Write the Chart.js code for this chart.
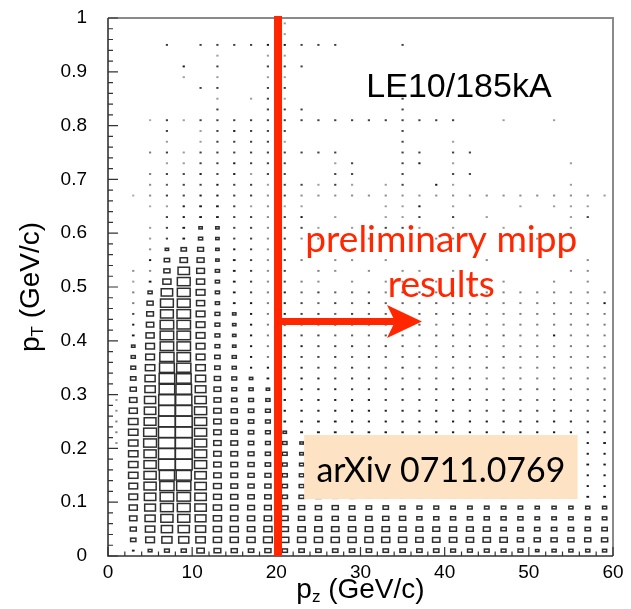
<!DOCTYPE html>
<html>
<head>
<meta charset="utf-8">
<title>LE10/185kA pT vs pz</title>
<script src="https://cdn.jsdelivr.net/npm/chart.js@4.4.0/dist/chart.umd.min.js"></script>
<style>
  html, body { margin: 0; padding: 0; background: #ffffff; }
  #wrap { width: 631px; height: 609px; }
</style>
</head>
<body>
<div id="wrap"><canvas id="chart" width="631" height="609"></canvas></div>
<script>
// Bin centres of the 2D histogram (pz in GeV/c, pT in GeV/c)
const pzCentres = [1, 3, 5, 7, 9, 11, 13, 15, 17, 19, 21, 23, 25, 27, 29,
                   31, 33, 35, 37, 39, 41, 43, 45, 47, 49, 51, 53, 55, 57, 59];
const ptCentres = [0.01, 0.03, 0.05, 0.07, 0.09, 0.11, 0.13, 0.15, 0.17, 0.19,
                   0.21, 0.23, 0.25, 0.27, 0.29, 0.31, 0.33, 0.35, 0.37, 0.39,
                   0.41, 0.43, 0.45, 0.47, 0.49, 0.51, 0.53, 0.55, 0.57, 0.59,
                   0.61, 0.63, 0.65, 0.67, 0.69, 0.71, 0.73, 0.75, 0.77, 0.79,
                   0.81, 0.83, 0.85, 0.87, 0.89, 0.91, 0.93, 0.95, 0.97, 0.99];
const binWidthPz = 2;
const binWidthPt = 0.02;
const maxContent = 100;

// Cell contents (relative yield), one column per pz bin, listed from pT = 0.01 upward
const col01 = [0,0,0,0,0,0,0,0,0,0, 0.5,0.6,0.6,0.5,0.4,0,0,0,0,0, 0,0,0,0,0,0,0,0,0,0, 0,0,0,0,0,0,0,0,0,0, 0,0,0,0,0,0,0,0,0,0];
const col03 = [2.6,10,13,19,23,27,27,31,31,31, 31,31,31,23,19,13,10,8,6,4, 2.6,1.4,1,0.6,0.6,0.4,0.5,0,0,0, 0,0,0,0.3,0,0,0,0,0,0, 0,0,0,0,0,0,0,0,0,0];
const col05 = [5,27,31,36,41,46,52,52,52,52, 58,58,49,46,44,38,36,31,27,27, 23,19,16,13,6,2.6,0.5,1.4,0.5,0.4, 0.4,0,0.3,0.5,0.5,0.6,0,0.6,0,0, 0.3,0,0,0,0,0,0,0,0,0];
const col07 = [8,36,44,52,58,64,71,81,100,100, 100,100,100,95,95,85,85,77,71,64, 64,64,58,58,46,23,13,10,4,1, 1,1,0.4,1,0.8,1,0.4,1,0.4,1, 1,0,0,0,0,0,0,1,0,0];
const col09 = [9,36,44,52,58,64,71,81,100,100, 100,100,100,95,92,85,77,71,64,64, 64,64,64,58,58,58,46,19,10,2.6, 2.6,1.4,1.4,1,1,1,0.4,0.4,0,0, 0.4,0,0,0,0.4,1.5,0,0,0,0];
const col11 = [19,31,36,41,46,46,46,46,52,52, 52,52,52,52,46,40,36,31,27,27, 27,27,27,23,27,23,21,17,12,6, 4,2.6,2.6,1.4,1,1.5,1,1,0.4,0.4, 1,0,0,1,0,0,0,1,0,0];
const col13 = [16,23,23,23,23,21,21,19,19,19, 19,19,19,19,16,16,13,10,10,8, 8,8,8,6,6,6,6,4,4,4, 4,2.6,2.6,1.4,1.4,1,1,1,1,1, 1,1,0.4,1,0.4,1,0.4,1,0,0];
const col15 = [13,23,23,19,19,18,16,16,16,16, 16,13,13,13,10,8,8,6,6,4, 4,4,4,2.6,2.6,2.6,2.6,2.6,1.4,1, 1,1,1,1,1,1.5,1.5,1,1,1.5, 1,0,0,0,0,0,0,1,0,0];
const col17 = [10,23,19,18,16,14,13,13,13,12, 10,10,10,10,8,6,4,1.4,1.4,1.4, 1.4,1.4,1.4,1.4,1,1,1,1,1,1, 1,1,0.4,1,1,0.4,1,1,1,1, 1,0,0.4,0,0,0,0,1,0,0];
const col19 = [13,27,23,19,16,14,13,12,10,9, 8,8,8,8,6,4,2.6,1.4,0.6,0.6, 0.6,0.6,0.6,0.6,0.6,0.5,0.5,0.5,0.5,0.5, 0.5,0.5,0.5,0.5,0.4,1,1,1,1,1, 1,1,1,1,0.4,1,0.4,1.5,0,0];
const col21 = [10,23,19,16,13,10,10,9,8,8, 7,4,2.6,2,2,1.5,1.2,1.2,1.2,1.2, 1.2,1.2,1.2,1.2,1.2,1,1,1,1,1, 1,1,0.4,1,1,1,1,1,0.4,1, 1,1,0.4,1,0.4,1,0.4,1.5,0.4,0.4];
const col23 = [10,23,19,13,13,9,8,7,6,5, 4,3,2.6,1.8,1.5,1.4,1.2,1.2,1,1.2, 1,0.8,1,1,0.8,0.6,0,0.6,0,0.5, 1,1.4,0.4,0.5,1,0,0,1,0,0, 1,1,0,0,0,1,0,1,0,0];
const col25 = [10,23,19,13,13,9,8,7,6,5, 4,3,2.6,1.6,1.4,1.2,1.2,1,1,1, 1,0.8,1,0.8,1,0.5,0.6,0,0,0.6, 0.4,0,0,0.5,0.4,0,0,1,0,0, 1,0,0,0,0,0,0,1,0,0];
const col27 = [10,23,19,13,13,8,7,6,5,4.5, 3.5,2.8,2.6,1.5,1.4,1.2,1,1,1,1, 0.8,1,0.8,1,0.8,0,0.5,0.5,0,0, 0,0.4,0,0.5,1,1,0.4,1,0,0, 1,0,0,0,0,0,0,1,0,0];
const col29 = [10,23,19,13,10,8,7,6,5,4, 3.5,2.5,1.4,1.4,1.2,1,1,1,0.8,1, 0.8,0.8,1,0.8,0.8,0.5,0,0.5,0.5,0, 0.4,0,0,0.5,0.4,1,1,0,0,0, 1,0,0,0,0,0,0,0,0,0];
const col31 = [10,23,19,13,10,7,6,5.5,4.5,4, 3,2.5,1.4,1.3,1.2,1,1,0.8,1,0.8, 0.8,0.8,0.8,1,0.8,0,0.5,0,0,0.5, 0,0,0,0.5,0,0,0,0,0,0, 1,0,0,0,0,0,0,0,0,0];
const col33 = [10,23,19,13,10,7,6,5,4.5,3.5, 3,2.2,1.4,1.2,1,1,1,0.8,0.8,1, 0.8,0.8,0.8,0.8,0.6,0.5,0,0.5,0,0, 1,0.4,0.4,0.5,0.4,0,0,0,0,0, 1,0,0,0,0,0,0,0,0,0];
const col35 = [10,23,16,13,8,6.5,5.5,5,4,3.5, 2.8,2,1.4,1.2,1,1,0.8,1,0.8,0.8, 0.8,0.8,0.8,0.8,0.8,0.5,0.5,0,0.6,0.5, 1,0.4,0.4,0.5,1,1,1,1,1,1, 1,1,1,0,0,0,0,1,0,0];
const col37 = [10,19,16,9,8,6,5,4.5,4,3, 2.5,2,1.4,1.2,1,1,0.8,0.8,0.8,0.6, 0.8,0.8,0.8,0.8,0.8,0,0.5,0,0.5,0, 0.4,1,1.5,0.5,0,0,1.5,1,0,0, 1,0,0,0,0,0,0,0,0,0];
const col39 = [10,19,16,9,8,6,5,4.5,3.5,3, 2.5,2,1.4,1.2,1,1,0.8,0.8,0.6,0.8, 0.8,0.6,0.8,0.8,0.6,0.5,0,0,0,0.5, 0,0,0,0.5,1.5,0,0,0,0,0, 1,0,0,0,0,0,0,0,0,0];
const col41 = [8,19,16,9,7,5.5,4.5,4,3.5,3, 2.2,1.8,1.3,1,1,1,0.8,0.6,0.8,0.6, 0.8,0.6,0.8,0.6,0.8,0,0.5,0,0,0.5, 0.4,1,0.4,0.5,0.4,1,0.4,1,0.4,0, 1,0,0,0,0,0,0,0,0,0];
const col43 = [8,19,16,9,7,5.5,4.5,4,3.5,2.8, 2.2,1.8,1.3,1,1,0.8,0.8,0.6,0.6,0.8, 0.6,0.6,0.8,0.6,0.6,0.5,0,0,0,0, 0,0,0,0.5,0,1,0,1,0,0, 0,0,0,0,0,0,0,0,0,0];
const col45 = [8,19,16,9,7,5,4,3.5,3,2.5, 2,1.6,1.3,1,0.9,0.8,0.6,0.8,0.6,0.6, 0.8,0.6,0.6,0.6,0.6,0,0,0.5,0,0, 0,0.4,0,0.5,0,0,0,0,0,0, 0,0,0,0,0,0,0,0,0,0];
const col47 = [8,19,10,9,7,5,4,3.5,3,2.5, 2,1.6,1.2,1,0.9,0.8,0.6,0.6,0.8,0.6, 0.8,0.6,0.6,0.6,0.6,0.5,0,0,0,0, 0.4,0,0,0.5,0,0,0,0,0,0, 0.4,0,0,0,0,0,0,0,0,0];
const col49 = [8,13,10,9,7,4.5,3.5,3,2.8,2.3, 2,1.5,1.2,1,0.9,0.8,0.6,0.6,0.6,0.6, 0.6,0.6,0.6,0.6,0.6,0,0,0,0.5,0, 0,0,0.4,0.5,0,0,0,0,0,0, 0,0,0,0,0,0,0,0,0,0];
const col51 = [4,13,10,7,6,4,3.5,3,2.5,2.2, 1.8,1.5,1.2,1,0.8,0.8,0.6,0.6,0.6,0.6, 0.6,0.6,0.6,0.6,0.6,0,0,0,0,0.5, 0,0,0,0.5,0,0,0,0,0,0, 0,0,0,0,0,0,0,0,0,0];
const col53 = [6,13,10,7,6,4,3.5,3,2.5,2, 1.8,1.4,1.2,0.9,0.8,0.7,0.6,0.6,0.6,0.6, 1.5,0.6,0.6,0.6,0.6,0.5,0,0,0,0, 0,0,0.4,0.5,0,0,0,0,0,0, 0.4,0,0,0,0,0,0,0,0,0];
const col55 = [6,13,10,7,6,3.5,3,2.6,2.3,2, 1.6,1.4,1.1,0.9,0.8,0.7,0.6,0.6,0.6,0.6, 0.6,0.6,0.6,0.6,0.6,0,0.5,0,0,0, 0.4,0.4,0.4,0.5,0.4,0,0.4,0,0,0, 0,0,0,0,0,0,0,0,0,0];
const col57 = [6,13,10,7,6,2.6,1.4,1.4,2.6,1.4, 1.4,1.4,1.1,0.9,0.8,0.7,0.6,0.6,0.6,0.6, 0.6,0.6,0.6,0.6,0.6,0.5,0.5,0.5,0,0, 0,1,0.4,0.5,0,0,0,0,0,0, 0,0,0,0,0,0,0,0,0,0];
const col59 = [6,13,10,7,6,2.6,1.4,1.4,2,1.4, 2.6,1.4,1,0.9,0.8,0.7,0.6,0.6,0.6,0.6, 0.6,0.6,0.6,1.4,0.6,0,0,0,0,0, 0,0,0,0.4,0,0,0,0,0,0, 0,0,0,0,0,0,0,0,0,0];

const columns = [col01, col03, col05, col07, col09, col11, col13, col15, col17, col19,
                 col21, col23, col25, col27, col29, col31, col33, col35, col37, col39,
                 col41, col43, col45, col47, col49, col51, col53, col55, col57, col59];

// Axis tick labels
const xTickLabels = ['0', '10', '20', '30', '40', '50', '60'];
const yTickLabels = ['0', '0.1', '0.2', '0.3', '0.4', '0.5', '0.6', '0.7', '0.8', '0.9', '1'];

// Overlay annotations (in data coordinates)
const cutPz = 20.2;            // vertical red line
const arrowPt = 0.436;         // horizontal arrow level
const arrowTipPz = 37.3;
const arrowBackPz = 33.15;
const paperBox = { pz0: 23.3, pz1: 55.8, pt0: 0.106, pt1: 0.225 };

const points = [];
columns.forEach((col, j) => {
  col.forEach((v, i) => {
    if (v > 0) points.push({ x: pzCentres[j], y: ptCentres[i], v: v });
  });
});

const SANS = '"Liberation Sans", Arial, Helvetica, sans-serif';
const HUMANIST = 'Lato, "Open Sans", sans-serif';
const RED = 'rgb(255,38,0)';

function fitSize(ctx, text, family, targetWidth) {
  ctx.font = '100px ' + family;
  return 100 * targetWidth / ctx.measureText(text).width;
}

// Box drawing: each cell is an open rectangle whose area scales with the content
const boxPlugin = {
  id: 'cellBoxes',
  afterDatasetsDraw(chart) {
    const ctx = chart.ctx, xs = chart.scales.x, ys = chart.scales.y;
    const binW = Math.abs(xs.getPixelForValue(binWidthPz) - xs.getPixelForValue(0));
    const binH = Math.abs(ys.getPixelForValue(0) - ys.getPixelForValue(binWidthPt));
    const meta = chart.getDatasetMeta(0);
    const pts = chart.data.datasets[0].data;
    ctx.save();
    meta.data.forEach((el, k) => {
      const v = pts[k].v;
      const r = Math.sqrt(v / maxContent);
      const w = r * binW, h = r * binH;
      if (w < 3) {
        const dw = Math.max(w, 2.2), dh = Math.max(h, 1.9);
        ctx.fillStyle = 'rgba(0,0,0,' + Math.min(0.9, 0.15 + 0.6 * v) + ')';
        ctx.fillRect(el.x - dw / 2, el.y - dh / 2, dw, dh);
      } else {
        ctx.strokeStyle = '#2e2e2e';
        ctx.lineWidth = 1.5;
        ctx.strokeRect(el.x - w / 2, el.y - h / 2, w, h);
      }
    });
    ctx.restore();
  }
};

// Frame, inner tick marks, axis titles and overlay annotations
const overlayPlugin = {
  id: 'overlay',
  afterDraw(chart) {
    const ctx = chart.ctx, xs = chart.scales.x, ys = chart.scales.y;
    const L = xs.getPixelForValue(0), R = xs.getPixelForValue(60);
    const T = ys.getPixelForValue(1), B = ys.getPixelForValue(0);
    ctx.save();

    // frame
    ctx.strokeStyle = '#8a8a8a';
    ctx.lineWidth = 2;
    ctx.beginPath();
    ctx.moveTo(L, T); ctx.lineTo(R, T); ctx.lineTo(R, B);
    ctx.stroke();
    ctx.strokeStyle = '#333';
    ctx.lineWidth = 1.6;
    ctx.beginPath();
    ctx.moveTo(L, T); ctx.lineTo(L, B); ctx.lineTo(R, B);
    ctx.stroke();

    // tick marks pointing into the frame
    ctx.lineWidth = 1.2;
    ctx.beginPath();
    for (let k = 0; k <= 30; k++) {
      const px = xs.getPixelForValue(k * 2);
      const len = (k % 5 === 0) ? 9 : 4.5;
      ctx.moveTo(px, B); ctx.lineTo(px, B - len);
    }
    for (let k = 0; k <= 50; k++) {
      const py = ys.getPixelForValue(k * 0.02);
      const len = (k % 5 === 0) ? 10 : 5;
      ctx.moveTo(L, py); ctx.lineTo(L + len, py);
    }
    ctx.stroke();

    // axis titles with subscripts
    const tsize = 28, ssize = 17;
    ctx.fillStyle = '#000';
    ctx.textBaseline = 'alphabetic';
    ctx.textAlign = 'left';
    function titleWidth(sub) {
      ctx.font = tsize + 'px ' + SANS; const a = ctx.measureText('p').width;
      const c = ctx.measureText(' (GeV/c)').width;
      ctx.font = ssize + 'px ' + SANS; const b = ctx.measureText(sub).width;
      return [a, b, c];
    }
    function drawTitle(sub, cx, baseY) {
      const [a, b, c] = titleWidth(sub);
      let x = cx - (a + b + c) / 2;
      ctx.font = tsize + 'px ' + SANS; ctx.fillText('p', x, baseY); x += a;
      ctx.font = ssize + 'px ' + SANS; ctx.fillText(sub, x, baseY + 4); x += b;
      ctx.font = tsize + 'px ' + SANS; ctx.fillText(' (GeV/c)', x, baseY);
    }
    drawTitle('z', (L + R) / 2, 598);
    ctx.save();
    ctx.translate(39, (T + B) / 2);
    ctx.rotate(-Math.PI / 2);
    drawTitle('T', 0, 0);
    ctx.restore();

    // run label
    ctx.fillStyle = '#000';
    ctx.textAlign = 'center';
    ctx.font = '34px ' + SANS;
    ctx.fillText('LE10/185kA', xs.getPixelForValue(41.7), ys.getPixelForValue(0.853));

    // vertical cut line
    const cx = xs.getPixelForValue(cutPz);
    ctx.strokeStyle = RED;
    ctx.lineWidth = 8;
    ctx.beginPath();
    ctx.moveTo(cx, T - 2); ctx.lineTo(cx, B);
    ctx.stroke();

    // arrow
    const ay = ys.getPixelForValue(arrowPt);
    const tipX = xs.getPixelForValue(arrowTipPz);
    const backX = xs.getPixelForValue(arrowBackPz);
    ctx.lineWidth = 7;
    ctx.beginPath();
    ctx.moveTo(cx, ay); ctx.lineTo(backX + 8, ay);
    ctx.stroke();
    ctx.fillStyle = RED;
    ctx.beginPath();
    ctx.moveTo(tipX, ay);
    ctx.lineTo(backX, ay - 16.5);
    ctx.lineTo(backX + 8, ay);
    ctx.lineTo(backX, ay + 16.5);
    ctx.closePath();
    ctx.fill();

    // red caption
    const capSize = fitSize(ctx, 'preliminary mipp', HUMANIST, 272);
    ctx.font = capSize + 'px ' + HUMANIST;
    ctx.fillStyle = RED;
    ctx.textAlign = 'center';
    ctx.fillText('preliminary mipp', xs.getPixelForValue(39.6), ys.getPixelForValue(0.565));
    ctx.fillText('results', xs.getPixelForValue(39.6), ys.getPixelForValue(0.481));

    // reference box
    const bx0 = xs.getPixelForValue(paperBox.pz0), bx1 = xs.getPixelForValue(paperBox.pz1);
    const by0 = ys.getPixelForValue(paperBox.pt1), by1 = ys.getPixelForValue(paperBox.pt0);
    ctx.fillStyle = '#fde3c3';
    ctx.fillRect(bx0, by0, bx1 - bx0, by1 - by0);
    const refSize = fitSize(ctx, 'arXiv 0711.0769', HUMANIST, 249);
    ctx.font = refSize + 'px ' + HUMANIST;
    ctx.fillStyle = '#000';
    ctx.fillText('arXiv 0711.0769', (bx0 + bx1) / 2, ys.getPixelForValue(0.1375));

    ctx.restore();
  }
};

new Chart(document.getElementById('chart'), {
  type: 'scatter',
  data: {
    datasets: [{
      label: 'LE10/185kA',
      data: points,
      pointRadius: 0,
      pointHoverRadius: 0,
      showLine: false
    }]
  },
  options: {
    responsive: false,
    animation: false,
    devicePixelRatio: 1,
    events: [],
    layout: { padding: { top: 18, right: 18, left: 0, bottom: 0 } },
    plugins: { legend: { display: false }, tooltip: { enabled: false } },
    scales: {
      x: {
        type: 'linear', min: 0, max: 60,
        grid: { display: false, drawTicks: false },
        border: { display: false },
        ticks: {
          stepSize: 10, autoSkip: false, maxRotation: 0, padding: 5,
          color: '#000', font: { family: SANS, size: 19 },
          callback: (val, idx) => xTickLabels[idx]
        },
        afterFit: (s) => { s.height = 53; s.paddingLeft = 0; s.paddingRight = 0; }
      },
      y: {
        type: 'linear', min: 0, max: 1,
        grid: { display: false, drawTicks: false },
        border: { display: false },
        ticks: {
          stepSize: 0.1, autoSkip: false, padding: 21,
          color: '#000', font: { family: SANS, size: 19 },
          callback: (val, idx) => yTickLabels[idx]
        },
        afterFit: (s) => { s.width = 108; s.paddingTop = 0; s.paddingBottom = 0; }
      }
    }
  },
  plugins: [boxPlugin, overlayPlugin]
});
</script>
</body>
</html>
